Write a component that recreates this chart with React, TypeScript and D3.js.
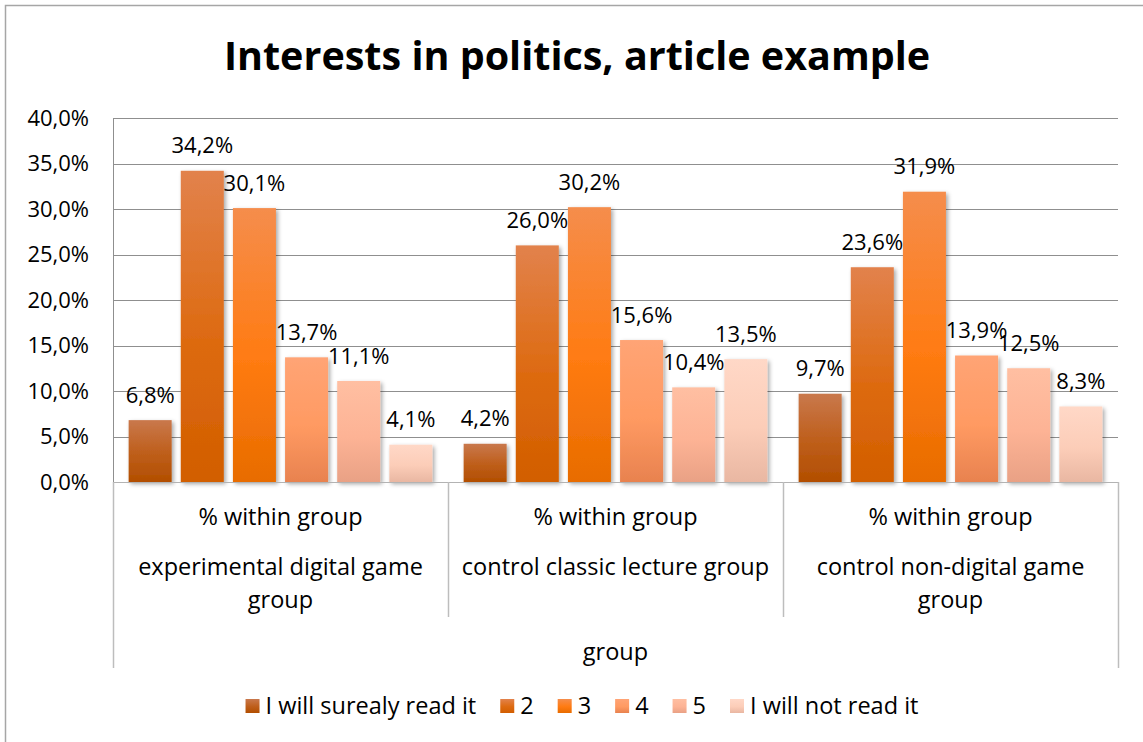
import React, { useEffect, useRef } from "react";
import * as d3 from "d3";

const groups = ["experimental digital game group", "control classic lecture group", "control non-digital game group"];
const groupLines = [["experimental digital game", "group"], ["control classic lecture group"], ["control non-digital game", "group"]];
const subLabel = "% within group";
const axisTitle = "group";
const seriesNames = ["I will surealy read it", "2", "3", "4", "5", "I will not read it"];
// values per series, one per group
const s1 = [6.8, 4.2, 9.7];
const s2 = [34.2, 26.0, 23.6];
const s3 = [30.1, 30.2, 31.9];
const s4 = [13.7, 15.6, 13.9];
const s5 = [11.1, 10.4, 12.5];
const s6 = [4.1, 13.5, 8.3];
const seriesValues = [s1, s2, s3, s4, s5, s6];
const yTicks = [0, 5, 10, 15, 20, 25, 30, 35, 40];
const title = "Interests in politics, article example";

const gradStops = [
  ["#C9784C", "#BE5E1A", "#B24E00"],
  ["#E2824C", "#DD6A10", "#D25E00"],
  ["#F58D4C", "#FF7B12", "#E86C00"],
  ["#FFA475", "#FF9A62", "#E8824F"],
  ["#FFBFA2", "#FDB395", "#E9A185"],
  ["#FFD8C7", "#FCCDB8", "#E9B7A2"],
];

const FONT = "'Open Sans', sans-serif";
const WORD_SIZE = 23.5;
const NUM_SIZE = 22;

export default function App() {
  const ref = useRef<SVGSVGElement>(null);
  useEffect(() => {
    const svg = d3.select(ref.current);
    svg.selectAll("*").remove();
    const W = 1143, H = 742;
    const left = 113, right = 1118, top = 118, bottom = 482;

    const defs = svg.append("defs");
    gradStops.forEach((st, i) => {
      const g = defs.append("linearGradient").attr("id", "g" + i).attr("x1", 0).attr("y1", 0).attr("x2", 0).attr("y2", 1);
      g.append("stop").attr("offset", "0%").attr("stop-color", st[0]);
      g.append("stop").attr("offset", "55%").attr("stop-color", st[1]);
      g.append("stop").attr("offset", "100%").attr("stop-color", st[2]);
    });
    const f = defs.append("filter").attr("id", "sh").attr("x", "-20%").attr("y", "-20%").attr("width", "150%").attr("height", "150%");
    f.append("feDropShadow").attr("dx", 2).attr("dy", 2).attr("stdDeviation", 2).attr("flood-color", "#000").attr("flood-opacity", 0.35);

    svg.append("rect").attr("x", 0).attr("y", 0).attr("width", W).attr("height", H).attr("fill", "#fff");
    svg.append("rect").attr("x", 5.5).attr("y", 5.5).attr("width", 1200).attr("height", 800)
      .attr("fill", "none").attr("stroke", "#a6a6a6").attr("stroke-width", 1.5);

    const y = d3.scaleLinear().domain([0, 40]).range([bottom, top]);
    const x0 = d3.scaleBand().domain(groups).range([left, right]).padding(0);
    const x1 = d3.scaleBand().domain(seriesNames).range([0, x0.bandwidth()]).paddingInner(0.175).paddingOuter(0.3);

    // gridlines
    svg.append("g").selectAll("line").data(yTicks).join("line")
      .attr("x1", left).attr("x2", right)
      .attr("y1", d => Math.round(y(d)) + 0.5).attr("y2", d => Math.round(y(d)) + 0.5)
      .attr("stroke", "#8f8f8f").attr("stroke-width", 1);
    svg.append("line").attr("x1", left + 0.5).attr("x2", left + 0.5).attr("y1", top).attr("y2", bottom)
      .attr("stroke", "#8f8f8f");

    const fmt = (d: number) => d3.format(".1f")(d).replace(".", ",") + "%";

    // y tick labels
    svg.append("g").selectAll("text").data(yTicks).join("text")
      .attr("x", 89).attr("y", d => y(d)).attr("dy", "0.35em").attr("text-anchor", "end")
      .attr("font-family", FONT).attr("font-size", NUM_SIZE).attr("fill", "#000")
      .text(fmt);

    // bars
    const bars = svg.append("g").attr("filter", "url(#sh)");
    seriesValues.forEach((vals, si) => {
      bars.selectAll(null).data(vals).join("rect")
        .attr("x", (d, gi) => x0(groups[gi])! + x1(seriesNames[si])!)
        .attr("width", x1.bandwidth())
        .attr("y", d => y(d)).attr("height", d => bottom - y(d))
        .attr("fill", `url(#g${si})`);
    });
    // data labels
    seriesValues.forEach((vals, si) => {
      svg.append("g").selectAll("text").data(vals).join("text")
        .attr("x", (d, gi) => x0(groups[gi])! + x1(seriesNames[si])! + x1.bandwidth() / 2)
        .attr("y", d => y(d) - 25).attr("dy", "0.35em").attr("text-anchor", "middle")
        .attr("font-family", FONT).attr("font-size", NUM_SIZE).attr("fill", "#000")
        .text(fmt);
    });

    // category axis
    const ax = svg.append("g");
    ax.append("line").attr("x1", left).attr("x2", right).attr("y1", bottom + 0.5).attr("y2", bottom + 0.5).attr("stroke", "#b3b3b3");
    const bounds = groups.map(g => x0(g)!).concat([right]);
    bounds.forEach((bx, i) => {
      const outer = i === 0 || i === bounds.length - 1;
      ax.append("line").attr("x1", Math.round(bx) + 0.5).attr("x2", Math.round(bx) + 0.5)
        .attr("y1", bottom).attr("y2", outer ? 668 : 617).attr("stroke", "#bdbdbd").attr("stroke-width", 1.5);
    });
    groups.forEach((g, gi) => {
      const cx = x0(g)! + x0.bandwidth() / 2;
      ax.append("text").attr("x", cx).attr("y", 525).attr("text-anchor", "middle")
        .attr("font-family", FONT).attr("font-size", WORD_SIZE).text(subLabel);
      groupLines[gi].forEach((ln, li) => {
        ax.append("text").attr("x", cx).attr("y", 575 + li * 33).attr("text-anchor", "middle")
          .attr("font-family", FONT).attr("font-size", WORD_SIZE).text(ln);
      });
    });
    ax.append("text").attr("x", (left + right) / 2).attr("y", 660).attr("text-anchor", "middle")
      .attr("font-family", FONT).attr("font-size", WORD_SIZE).text(axisTitle);

    // title
    svg.append("text").attr("x", 577).attr("y", 70).attr("text-anchor", "middle")
      .attr("font-family", FONT).attr("font-weight", "bold").attr("font-size", 39.5).text(title);

    // legend
    const lg = svg.append("g");
    let cx = 0;
    seriesNames.forEach((n, i) => {
      const it = lg.append("g");
      it.append("rect").attr("x", 0).attr("y", -7).attr("width", 14).attr("height", 14).attr("fill", `url(#g${i})`);
      const t = it.append("text").attr("x", 20).attr("y", 0).attr("dy", "0.35em")
        .attr("font-family", FONT).attr("font-size", WORD_SIZE).text(n);
      const w = 20 + (t.node() as SVGTextElement).getComputedTextLength();
      it.attr("transform", `translate(${cx},706)`);
      cx += w + 24;
    });
    const total = cx - 24;
    lg.attr("transform", `translate(${582 - total / 2},0)`);
  }, []);
  return (
    <svg ref={ref} width={1143} height={742} style={{ position: "absolute", left: 0, top: 0 }} />
  );
}
